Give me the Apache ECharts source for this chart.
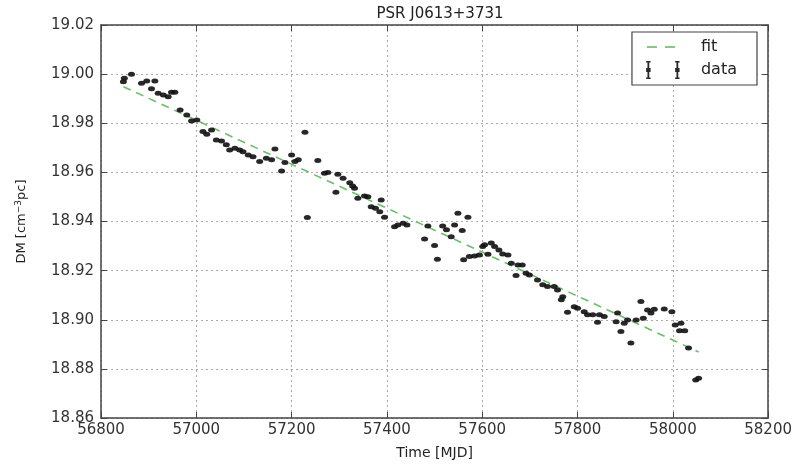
<!DOCTYPE html>
<html>
<head>
<meta charset="utf-8">
<script src="https://cdn.jsdelivr.net/npm/echarts@6/dist/echarts.min.js"></script>
<style>
  html, body { margin: 0; padding: 0; background: #fff; }
  #chart { width: 795px; height: 465px; }
</style>
</head>
<body>
<div id="chart"></div>
<script>
// MJD of each DM measurement
var mjd = [
  56847, 56849, 56864, 56885, 56896, 56906, 56913, 56920, 56931, 56941,
  56948, 56955, 56966, 56980, 56990, 57001, 57014, 57022, 57032, 57042,
  57053, 57063, 57070, 57081, 57091, 57098, 57109, 57119, 57133, 57147,
  57158, 57165, 57179, 57186, 57200, 57207, 57214, 57228, 57233, 57255,
  57269, 57276, 57293, 57297, 57308, 57322, 57328, 57332, 57339, 57353,
  57360, 57367, 57376, 57385, 57388, 57395, 57416, 57423, 57434, 57442,
  57479, 57486, 57500, 57506, 57517, 57525, 57535, 57542, 57549, 57558,
  57561, 57570, 57573, 57584, 57594, 57601, 57605, 57612, 57619, 57626,
  57635, 57643, 57654, 57661, 57671, 57675, 57684, 57692, 57699, 57716,
  57727, 57737, 57751, 57758, 57766, 57769, 57779, 57793, 57800, 57814,
  57821, 57832, 57842, 57846, 57856, 57881, 57884, 57891, 57898, 57905,
  57912, 57923, 57933, 57938, 57947, 57954, 57961, 57982, 57998, 58005,
  58014, 58017, 58025, 58033, 58048, 58054
];
// dispersion measure (cm^-3 pc)
var dm = [
  18.9969, 18.9983, 18.9999, 18.9963, 18.9972, 18.9940, 18.9972, 18.9922, 18.9915, 18.9908,
  18.9926, 18.9926, 18.9854, 18.9834, 18.9809, 18.9813, 18.9766, 18.9755, 18.9773, 18.9732,
  18.9728, 18.9712, 18.9691, 18.9698, 18.9691, 18.9684, 18.9671, 18.9664, 18.9644, 18.9658,
  18.9651, 18.9695, 18.9606, 18.9640, 18.9671, 18.9644, 18.9651, 18.9763, 18.9416, 18.9648,
  18.9596, 18.9600, 18.9519, 18.9592, 18.9576, 18.9558, 18.9545, 18.9535, 18.9495, 18.9504,
  18.9501, 18.9460, 18.9454, 18.9440, 18.9488, 18.9417, 18.9379, 18.9386, 18.9393, 18.9386,
  18.9329, 18.9382, 18.9302, 18.9246, 18.9382, 18.9366, 18.9338, 18.9386, 18.9434, 18.9363,
  18.9244, 18.9417, 18.9257, 18.9260, 18.9264, 18.9298, 18.9305, 18.9267, 18.9312, 18.9298,
  18.9284, 18.9268, 18.9264, 18.9230, 18.9180, 18.9223, 18.9223, 18.9189, 18.9182, 18.9162,
  18.9142, 18.9135, 18.9135, 18.9121, 18.9081, 18.9094, 18.9031, 18.9053, 18.9047, 18.9033,
  18.9020, 18.9020, 18.8990, 18.9020, 18.9013, 18.8992, 18.9027, 18.8952, 18.8986, 18.8999,
  18.8905, 18.8999, 18.9074, 18.9006, 18.9040, 18.9027, 18.9043, 18.9044, 18.9033, 18.8979,
  18.8955, 18.8986, 18.8955, 18.8885, 18.8755, 18.8762
];
// linear fit endpoints
var fitMjd = [56847, 58054];
var fitDm = [18.9949, 18.8869];

var xTicks = { min: 56800, max: 58200, step: 200 };
var yTicks = { min: 18.86, max: 19.02, step: 0.02 };

var font = "DejaVu Sans";
var chart = echarts.init(document.getElementById("chart"));

var dataPts = mjd.map(function(m, i) { return [m, dm[i]]; });
var fitPts = fitMjd.map(function(m, i) { return [m, fitDm[i]]; });

// tiny corner boxes keep the icon path from being stretched (box 36x20)
var corners = "M0,0h0.01v0.01h-0.01z M36,20h0.01v0.01h-0.01z ";
var fitIcon = "path://" + corners + "M1,9h10v2h-10z M19,9h10v2h-10z";
var dataIcon = "path://" + corners +
  "M1.5,1h1.8v18h-1.8z M0.2,1h4.4v1.4h-4.4z M0.2,17.6h4.4v1.4h-4.4z M0.2,8h4.4v4h-4.4z " +
  "M30.5,1h1.8v18h-1.8z M29.2,1h4.4v1.4h-4.4z M29.2,17.6h4.4v1.4h-4.4z M29.2,8h4.4v4h-4.4z";

var frame = { show: true, lineStyle: { color: "#444", width: 1.5 } };
var ticksIn = { show: true, inside: true, length: 6, lineStyle: { color: "#444" } };
var grid = { show: true, lineStyle: { color: "#aaa", type: [2, 3], width: 1 } };

var option = {
  backgroundColor: "#fff",
  animation: false,
  title: {
    text: "PSR J0613+3731",
    left: 435,
    textAlign: "center",
    top: 2,
    textStyle: { fontFamily: font, fontSize: 15, fontWeight: "normal", color: "#222" }
  },
  grid: { left: 101, right: 26, top: 25, bottom: 47 },
  legend: {
    orient: "vertical",
    right: 38,
    top: 32,
    itemWidth: 36,
    itemHeight: 20,
    itemGap: 3,
    padding: [5, 20, 5, 14],
    backgroundColor: "#fff",
    borderColor: "#444",
    borderWidth: 1.2,
    borderRadius: 0,
    textStyle: { fontFamily: font, fontSize: 16, color: "#222", padding: [0, 0, 0, 14] },
    data: [
      { name: "fit", icon: fitIcon, itemStyle: { color: "#7fcc7f" } },
      { name: "data", icon: dataIcon, itemStyle: { color: "#111" } }
    ]
  },
  xAxis: [
    {
      type: "value",
      min: xTicks.min, max: xTicks.max, interval: xTicks.step,
      name: "Time [MJD]",
      nameLocation: "middle",
      nameGap: 28,
      nameTextStyle: { fontFamily: font, fontSize: 14, color: "#222" },
      axisLine: frame,
      axisTick: ticksIn,
      splitLine: grid,
      axisLabel: {
        fontFamily: font, fontSize: 15, color: "#333", margin: 5,
        formatter: function(v) { return String(v); }
      }
    },
    {
      type: "value", position: "top",
      min: xTicks.min, max: xTicks.max, interval: xTicks.step,
      axisLine: frame, axisTick: ticksIn,
      axisLabel: { show: false }, splitLine: { show: false }
    }
  ],
  yAxis: [
    {
      type: "value",
      min: yTicks.min, max: yTicks.max, interval: yTicks.step,
      name: "DM [cm{sup|−3}pc]",
      nameLocation: "middle",
      nameGap: 72,
      nameTextStyle: {
        fontFamily: font, fontSize: 13, color: "#222",
        rich: { sup: { fontFamily: font, fontSize: 9, color: "#222", verticalAlign: "top", padding: [0, 0, 6, 0] } }
      },
      axisLine: frame,
      axisTick: ticksIn,
      splitLine: grid,
      axisLabel: {
        fontFamily: font, fontSize: 15, color: "#333", margin: 7,
        formatter: function(v) { return v.toFixed(2); }
      }
    },
    {
      type: "value", position: "right",
      min: yTicks.min, max: yTicks.max, interval: yTicks.step,
      axisLine: frame, axisTick: ticksIn,
      axisLabel: { show: false }, splitLine: { show: false }
    }
  ],
  series: [
    {
      name: "fit",
      type: "line",
      data: fitPts,
      showSymbol: false,
      symbol: "none",
      lineStyle: { color: "#6abf69", width: 1.6, type: [8, 6] },
      itemStyle: { color: "#7fcc7f" },
      z: 3
    },
    {
      name: "data",
      type: "scatter",
      data: dataPts,
      symbol: "circle",
      symbolSize: [7, 5],
      itemStyle: { color: "#111", opacity: 0.9 },
      z: 4
    }
  ]
};
chart.setOption(option);
</script>
</body>
</html>
